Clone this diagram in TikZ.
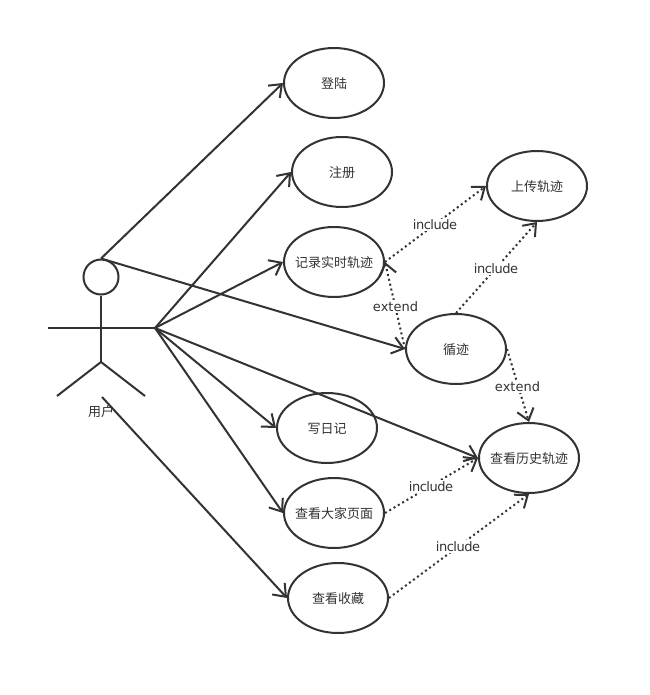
\documentclass[tikz,border=0pt]{standalone}
\usepackage{fontspec}
\setmainfont{DejaVu Sans}
\newfontfamily\cjk{Noto Sans CJK SC}
\usetikzlibrary{arrows.meta,shapes.geometric}
\definecolor{ink}{HTML}{333333}
\newcommand{\uctext}[1]{\makebox[0pt]{\smash{\raisebox{-5.5pt}{#1}}}}
\tikzset{
  usecase/.style={ellipse,draw=ink,line width=2pt,minimum width=100pt,minimum height=70pt,inner sep=0pt,text=ink,font=\cjk\fontsize{13}{15}\selectfont},
  limb/.style={draw=ink,line width=2pt},
  assoc/.style={draw=ink,line width=2pt,-{Straight Barb[length=11pt,width=17pt]}},
  dep/.style={draw=ink,line width=2pt,dash pattern=on 2pt off 3pt,-{Straight Barb[length=11pt,width=17pt,line width=2pt]}},
  deplabel/.style={fill=white,text=ink,inner xsep=1pt,inner ysep=1pt,font=\fontsize{13}{15}\selectfont},
  inclabel/.style={deplabel,font=\fontsize{13}{15}\selectfont\addfontfeature{LetterSpace=-3.8}},
}
\begin{document}
\begin{tikzpicture}[x=1pt,y=-1pt]
\useasboundingbox[fill=white] (0,0) rectangle (649,695);
% use cases
\node[usecase] (login) at (334,83) {\uctext{登陆}};
\node[usecase] (register) at (342,172) {\uctext{注册}};
\node[usecase] (record) at (334,262) {\uctext{记录实时轨迹}};
\node[usecase] (upload) at (537,186) {\uctext{上传轨迹}};
\node[usecase] (follow) at (456,349) {\uctext{循迹}};
\node[usecase] (diary) at (327,428) {\uctext{写日记}};
\node[usecase] (others) at (334,513) {\uctext{查看大家页面}};
\node[usecase] (fav) at (338,598) {\uctext{查看收藏}};
\node[usecase] (history) at (529,458) {\uctext{查看历史轨迹}};
% actor
\node[circle,draw=ink,line width=2pt,minimum size=35pt,inner sep=0pt] (head) at (101,277) {};
\coordinate (armL) at (48,328);
\coordinate (armR) at (155,328);
\coordinate (hip) at (101,362);
\coordinate (legL) at (57,396);
\coordinate (legR) at (145,396);
\coordinate (foot) at (102,397);
\draw[limb] (head.south) -- (hip);
\draw[limb] (armL) -- (armR);
\draw[limb] (legL) -- (hip) -- (legR);
\node[text=ink,font=\cjk\fontsize{13}{15}\selectfont,inner sep=0pt] (user) at (101,412) {用户};
% associations
\draw[assoc] (head.north) -- (login.west);
\draw[assoc] (armR) -- (register.west);
\draw[assoc] (armR) -- (record.west);
\draw[assoc] (head.north) -- (follow.west);
\draw[assoc] (armR) -- (diary.west);
\draw[assoc] (armR) -- (others.west);
\draw[assoc] (armR) -- (history.west);
\draw[assoc] (foot) -- (fav.west);
% dependencies
\draw[dep] (record.east) -- (upload.west);
\draw[dep] (follow.north) -- (upload.south);
\draw[dep] (follow.west) -- (record.east);
\draw[dep] (follow.east) -- (history.north);
\draw[dep] (others.east) -- (history.west);
\draw[dep] (fav.east) -- (history.south);
% labels
\node[inclabel] (inc1) at (435,225) {include};
\node[inclabel] (inc2) at (496,268.5) {include};
\node[deplabel] (ext1) at (395.5,306.5) {extend};
\node[deplabel] (ext2) at (517.5,386.5) {extend};
\node[inclabel] (inc3) at (431,486.5) {include};
\node[inclabel] (inc4) at (458,546.5) {include};
\end{tikzpicture}
\end{document}
